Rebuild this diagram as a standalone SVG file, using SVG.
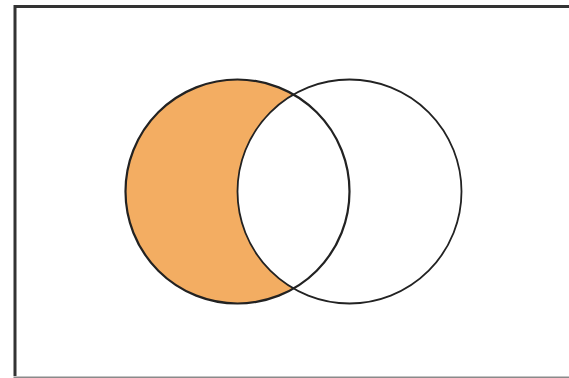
<svg xmlns="http://www.w3.org/2000/svg" width="569" height="378" viewBox="0 0 569 378">
<style>
.circ{fill:none;stroke:#222;}
</style>
<rect x="0" y="0" width="569" height="378" fill="#fff"/>
<g id="frame" fill="none">
<path d="M569 6.5 H15 V376" stroke="#333" stroke-width="3"/>
<path d="M13.5 377.2 H569" stroke="#8a8a8a" stroke-width="1.6"/>
</g>
<g id="setA-only">
<path d="M293.5 94.5 A112 112 0 1 0 293.5 288.5 A112 112 0 0 1 293.5 94.5 Z" fill="#f3ad62"/>
</g>
<g id="setA">
<circle class="circ" cx="237.5" cy="191.5" r="112" stroke-width="2.2"/>
</g>
<g id="setB">
<circle class="circ" cx="349.5" cy="191.5" r="112" stroke-width="1.8"/>
</g>
</svg>
